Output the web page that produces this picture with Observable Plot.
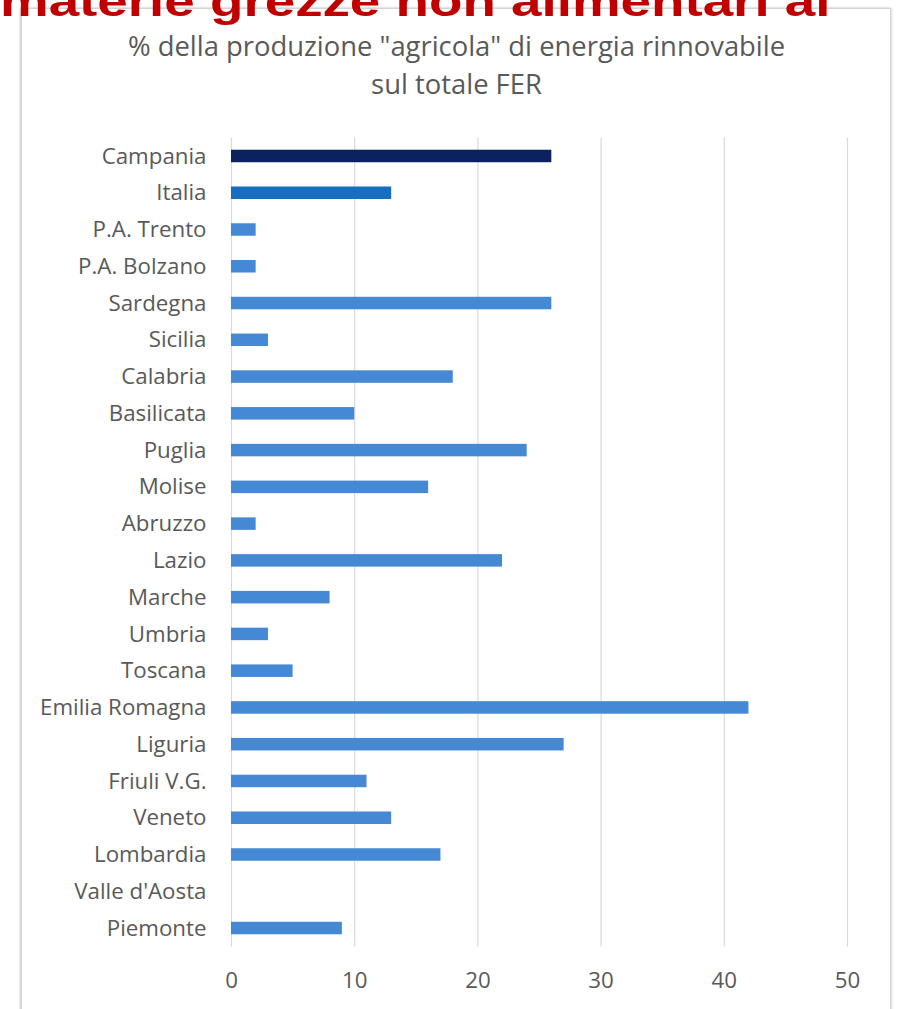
<!DOCTYPE html>
<html><head><meta charset="utf-8">
<script src="https://cdn.jsdelivr.net/npm/d3@7"></script>
<script src="https://cdn.jsdelivr.net/npm/@observablehq/plot@0.6"></script>
<style>
html,body{margin:0;padding:0;background:#fff;width:897px;height:1009px;overflow:hidden;}
#wrap{position:relative;width:897px;height:1009px;overflow:hidden;}
#frame{position:absolute;left:21px;top:8px;width:868px;height:1020px;border:1px solid #d4d4d4;box-shadow:-1px 0 2px #c8c8c8, 1px 0 2px #dcdcdc;}
#red{position:absolute;left:0;top:-20.4px;font:bold 43px "Liberation Sans",Arial,sans-serif;line-height:43px;color:#c00000;white-space:nowrap;z-index:5;transform:scaleX(1.273);transform-origin:0 0;}
#title{position:absolute;left:0;top:27px;width:913px;text-align:center;font-family:"Open Sans",sans-serif;font-size:27.4px;line-height:38px;color:#595959;}
#chart{position:absolute;left:0;top:110px;}
</style></head>
<body>
<div id="wrap">
  <div id="frame"></div>
  <div id="red">materie grezze non alimentari al</div>
  <div id="title">% della produzione "agricola" di energia rinnovabile<br>sul totale FER</div>
  <div id="chart"></div>
</div>
<script>
const regions = ["Campania","Italia","P.A. Trento","P.A. Bolzano","Sardegna","Sicilia","Calabria","Basilicata","Puglia","Molise","Abruzzo","Lazio","Marche","Umbria","Toscana","Emilia Romagna","Liguria","Friuli V.G.","Veneto","Lombardia","Valle d'Aosta","Piemonte"];
const values = [26,13,2,2,26,3,18,10,24,16,2,22,8,3,5,42,27,11,13,17,0,9];
const barColors = ["#0c2260","#176dc0","#4589d4","#4589d4","#4589d4","#4589d4","#4589d4","#4589d4","#4589d4","#4589d4","#4589d4","#4589d4","#4589d4","#4589d4","#4589d4","#4589d4","#4589d4","#4589d4","#4589d4","#4589d4","#4589d4","#4589d4"];
const xTicks = [0,10,20,30,40,50];

const data = regions.map((r,i)=>({region:r, value:values[i], color:barColors[i]}));

const chart = Plot.plot({
  width: 897, height: 899,
  marginLeft: 231, marginRight: 50, marginTop: 27.6, marginBottom: 62.6,
  style: {fontFamily: "'Open Sans', sans-serif", fontSize: "22.3px", color: "#595959", background: "transparent", overflow: "visible"},
  x: {domain: [0,50], label: null},
  y: {domain: regions, paddingInner: 0.66, paddingOuter: 0.33, round: false, label: null},
  color: {type: "identity"},
  marks: [
    Plot.gridX(xTicks, {stroke: "#d9d9d9", strokeOpacity: 1, strokeWidth: 1.2}),
    Plot.barX(data, {x: "value", y: "region", fill: "color"}),
    Plot.axisY({tickSize: 0, tickPadding: 25, label: null, fill: "#595959"}),
    Plot.axisX(xTicks, {tickSize: 0, tickPadding: 25, label: null, fill: "#595959"})
  ]
});
document.getElementById("chart").appendChild(chart);
</script>
</body></html>
